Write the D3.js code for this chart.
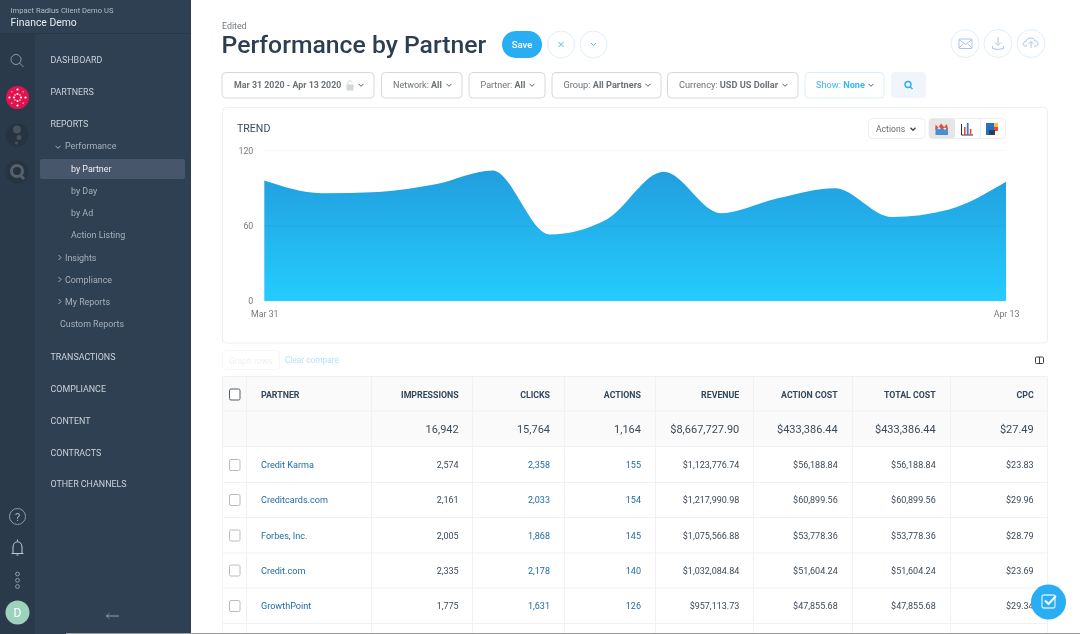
<!DOCTYPE html>
<html>
<head>
<meta charset="utf-8">
<script src="https://cdn.jsdelivr.net/npm/d3@7"></script>
<style>
  html, body { margin: 0; padding: 0; background: #fff; overflow: hidden; }
  svg { display: block; font-family: Roboto, sans-serif; filter: blur(0.3px); }
</style>
</head>
<body>
<svg id="page" width="1080" height="634"></svg>
<script>
// trend data, actions per day
const trendDays = ['2020-03-31','2020-04-01','2020-04-02','2020-04-03','2020-04-04','2020-04-05','2020-04-06',
  '2020-04-07','2020-04-08','2020-04-09','2020-04-10','2020-04-11','2020-04-12','2020-04-13'];
const trendActions = [96, 86, 87, 93, 104, 53, 65, 103, 70, 82, 90, 67, 73, 95];
const yTicks = [0, 60, 120];
const xTickLabels = ['Mar 31', 'Apr 13'];

// table data
const tableHeaders = ['IMPRESSIONS', 'CLICKS', 'ACTIONS', 'REVENUE', 'ACTION COST', 'TOTAL COST', 'CPC'];
const totals = ['16,942', '15,764', '1,164', '$8,667,727.90', '$433,386.44', '$433,386.44', '$27.49'];
const partners = ['Credit Karma', 'Creditcards.com', 'Forbes, Inc.', 'Credit.com', 'GrowthPoint'];
const impressions = ['2,574', '2,161', '2,005', '2,335', '1,775'];
const clicks = ['2,358', '2,033', '1,868', '2,178', '1,631'];
const actions = ['155', '154', '145', '140', '126'];
const revenue = ['$1,123,776.74', '$1,217,990.98', '$1,075,566.88', '$1,032,084.84', '$957,113.73'];
const actionCost = ['$56,188.84', '$60,899.56', '$53,778.36', '$51,604.24', '$47,855.68'];
const totalCost = ['$56,188.84', '$60,899.56', '$53,778.36', '$51,604.24', '$47,855.68'];
const cpc = ['$23.83', '$29.96', '$28.79', '$23.69', '$29.34'];

// nav and filter labels
const navTop = ['DASHBOARD', 'PARTNERS', 'REPORTS'];
const navSub = [['Performance', 65, 146], ['by Partner', 71, 169], ['by Day', 71, 191], ['by Ad', 71, 213],
  ['Action Listing', 71, 235], ['Insights', 65, 257.5], ['Compliance', 65, 279.5], ['My Reports', 65, 301.5], ['Custom Reports', 60, 323.5]];
const navBottom = ['TRANSACTIONS', 'COMPLIANCE', 'CONTENT', 'CONTRACTS', 'OTHER CHANNELS'];
const filters = [
  { x0: 222, x1: 374, a: '', b: 'Mar 31 2020 - Apr 13 2020', size: 8.85 },
  { x0: 381.5, x1: 462, a: 'Network: ', b: 'All', size: 9 },
  { x0: 469, x1: 545, a: 'Partner: ', b: 'All', size: 9 },
  { x0: 552, x1: 661, a: 'Group: ', b: 'All Partners', size: 9.2 },
  { x0: 667.5, x1: 798, a: 'Currency: ', b: 'USD US Dollar', size: 9.2 }
];

const svg = d3.select('#page');

function label(g, x, y, str, size, fill, weight, anchor) {
  return g.append('text').attr('x', x).attr('y', y).attr('dy', '0.35em')
    .attr('font-size', size).attr('fill', fill)
    .attr('font-weight', weight || 400).attr('text-anchor', anchor || 'start').text(str);
}
function chevron(g, x, y, color, w) {
  g.append('path').attr('d', `M${x - 2.5},${y - 1.2}L${x},${y + 1.3}L${x + 2.5},${y - 1.2}`)
    .attr('fill', 'none').attr('stroke', color).attr('stroke-width', w || 1);
}

// ---- sidebar ----
const side = svg.append('g');
side.append('rect').attr('width', 191).attr('height', 634).attr('fill', '#2f4052');
side.append('rect').attr('y', 34).attr('width', 35).attr('height', 600).attr('fill', '#2b3a4a');
side.append('line').attr('x1', 0).attr('x2', 191).attr('y1', 33.5).attr('y2', 33.5).attr('stroke', '#283746');
label(side, 10.5, 10, 'Impact Radius Client Demo US', 7.6, '#b4bcc5');
label(side, 10.5, 22, 'Finance Demo', 10.4, '#e6e9ec');

navTop.forEach((d, i) => label(side, 50.5, [60, 92, 123.5][i], d, 8.9, '#cdd2d8'));
side.append('rect').attr('x', 40).attr('y', 159).attr('width', 145).attr('height', 20).attr('rx', 2).attr('fill', '#47566a');
navSub.forEach((d, i) => label(side, d[1], d[2], d[0], 8.9, i === 1 ? '#eef0f2' : '#a7b0ba'));
chevron(side, 58, 147, '#a7b0ba');
[257.5, 279.5, 301.5].forEach(y => side.append('path').attr('d', `M58.5,${y - 2.5}L61,${y}L58.5,${y + 2.5}`)
  .attr('fill', 'none').attr('stroke', '#a7b0ba'));
navBottom.forEach((d, i) => label(side, 50.5, 356.7 + i * 31.9, d, 8.9, '#cdd2d8'));

// rail icons
const ic = '#8f9aa6';
side.append('circle').attr('cx', 16).attr('cy', 59.5).attr('r', 5).attr('fill', 'none').attr('stroke', ic);
side.append('line').attr('x1', 19.5).attr('y1', 63).attr('x2', 23.5).attr('y2', 67).attr('stroke', ic);
side.append('circle').attr('cx', 17.5).attr('cy', 97.5).attr('r', 11.5).attr('fill', '#e0134f');
d3.range(8).forEach(i => {
  const t = i * Math.PI / 4;
  [3.5, 8].forEach(r => side.append('circle').attr('cx', 17.5 + r * Math.cos(t)).attr('cy', 97.5 + r * Math.sin(t))
    .attr('r', i % 2 ? 0.7 : 1.1).attr('fill', '#fff'));
});
side.append('circle').attr('cx', 17).attr('cy', 135).attr('r', 11.5).attr('fill', '#27343f');
side.append('circle').attr('cx', 17).attr('cy', 129.5).attr('r', 4).attr('fill', '#46535f');
side.append('circle').attr('cx', 19).attr('cy', 137.5).attr('r', 2.5).attr('fill', '#46535f');
side.append('circle').attr('cx', 16.5).attr('cy', 143).attr('r', 1.5).attr('fill', '#46535f');
side.append('circle').attr('cx', 17).attr('cy', 172).attr('r', 11.5).attr('fill', '#27343f');
side.append('circle').attr('cx', 17).attr('cy', 171).attr('r', 5.5).attr('fill', 'none').attr('stroke', '#55626d').attr('stroke-width', 3);
side.append('line').attr('x1', 20).attr('y1', 175).attr('x2', 24).attr('y2', 179).attr('stroke', '#55626d').attr('stroke-width', 3);
side.append('circle').attr('cx', 17.5).attr('cy', 516.5).attr('r', 8).attr('fill', 'none').attr('stroke', ic);
label(side, 17.5, 517, '?', 11, '#aab3bc', 400, 'middle');
side.append('path').attr('d', 'M13,553V547C13,540 22,540 22,547V553M11.5,553.5H23.5M16.5,555H18.5M17.5,541V539.5')
  .attr('fill', 'none').attr('stroke', '#c3c9d0');
[574, 580.3, 586.5].forEach(y => side.append('circle').attr('cx', 17.5).attr('cy', y).attr('r', 1.9)
  .attr('fill', 'none').attr('stroke', ic));
side.append('circle').attr('cx', 17.5).attr('cy', 612.5).attr('r', 12).attr('fill', '#9dd3bd');
label(side, 17.5, 613, 'D', 12, '#fff', 400, 'middle');
side.append('path').attr('d', 'M119,616H106.5M109,613.5L106.5,616L109,618.5').attr('fill', 'none').attr('stroke', '#95a0ab');

// ---- page header ----
const head = svg.append('g');
label(head, 222, 25.5, 'Edited', 8.8, '#6f7880');
label(head, 221.5, 44.5, 'Performance by Partner', 24.75, '#2c3e50', 500);
head.append('rect').attr('x', 502).attr('y', 31).attr('width', 40).attr('height', 27).attr('rx', 13.5).attr('fill', '#2aaef3');
label(head, 522, 44.5, 'Save', 9.6, '#fff', 500, 'middle');

function circleBtn(cx, cy, r) {
  head.append('circle').attr('cx', cx).attr('cy', cy).attr('r', r).attr('fill', '#fff').attr('stroke', '#deeefb');
}
circleBtn(561, 44.5, 13.5);
circleBtn(593.5, 44.5, 13.5);
head.append('path').attr('d', 'M558.5,42L563.5,47M563.5,42L558.5,47').attr('stroke', '#4db5f0').attr('fill', 'none');
chevron(head, 593.5, 44.2, '#4db5f0');
[965, 998, 1031].forEach(x => circleBtn(x, 43.5, 14));
const blueIc = '#a9c6ea';
head.append('rect').attr('x', 959).attr('y', 39).attr('width', 13).attr('height', 9.5).attr('rx', 1).attr('fill', 'none').attr('stroke', blueIc);
head.append('path').attr('d', 'M959,39.5L965.5,44.5L972,39.5M959,48L963.5,43.5M972,48L967.5,43.5').attr('fill', 'none').attr('stroke', blueIc);
head.append('path').attr('d', 'M998,37V45M995,42.5L998,45.5L1001,42.5M992.5,46V48.5Q998,50.5 1003.5,48.5V46').attr('fill', 'none').attr('stroke', blueIc);
head.append('path').attr('d', 'M1027,46H1025C1022,46 1023,41 1026,41.5C1027,37 1034,37 1035,41C1039,41 1039,46 1036,46H1034M1031,48V42M1028.5,44L1031,41.5L1033.5,44')
  .attr('fill', 'none').attr('stroke', blueIc);

// ---- filter row ----
const bar = svg.append('g');
filters.forEach((f, i) => {
  bar.append('rect').attr('x', f.x0).attr('y', 72.5).attr('width', f.x1 - f.x0).attr('height', 25.5).attr('rx', 4)
    .attr('fill', '#fff').attr('stroke', '#d5d8db');
  const t = bar.append('text').attr('x', i === 0 ? f.x0 + 12 : f.x0 + 11.5).attr('y', 85).attr('dy', '0.35em')
    .attr('font-size', f.size).attr('fill', '#6c7278');
  t.append('tspan').text(f.a);
  t.append('tspan').attr('font-weight', 700).text(f.b);
  chevron(bar, f.x1 - 13, 85, '#555d64');
});
bar.append('rect').attr('x', 346.5).attr('y', 84.5).attr('width', 7).attr('height', 6).attr('fill', '#d3d6d9');
bar.append('path').attr('d', 'M348,84.5V82.5C348,80 352,80 352,82.5').attr('fill', 'none').attr('stroke', '#d3d6d9');

bar.append('rect').attr('x', 805).attr('y', 72.5).attr('width', 79).attr('height', 25.5).attr('rx', 4)
  .attr('fill', '#fff').attr('stroke', '#dcecfb');
const showT = bar.append('text').attr('x', 816).attr('y', 85).attr('dy', '0.35em').attr('font-size', 9.2).attr('fill', '#3cb4f5');
showT.append('tspan').text('Show: ');
showT.append('tspan').attr('font-weight', 700).text('None');
chevron(bar, 871, 85, '#555d64');
bar.append('rect').attr('x', 891).attr('y', 72).attr('width', 35).attr('height', 26).attr('rx', 4).attr('fill', '#eff5fa');
bar.append('circle').attr('cx', 908).attr('cy', 84.5).attr('r', 3).attr('fill', 'none').attr('stroke', '#2aaef3').attr('stroke-width', 1.4);
bar.append('line').attr('x1', 910).attr('y1', 86.7).attr('x2', 912.5).attr('y2', 89).attr('stroke', '#2aaef3').attr('stroke-width', 1.4);

// ---- trend card ----
const card = svg.append('g');
card.append('rect').attr('x', 222.5).attr('y', 107.5).attr('width', 825).attr('height', 235.5).attr('rx', 4)
  .attr('fill', '#fff').attr('stroke', '#eceef0');
label(card, 237, 128.5, 'TREND', 10.6, '#3a4a5a', 400);

card.append('rect').attr('x', 868.5).attr('y', 118.5).attr('width', 56.5).attr('height', 20).attr('rx', 4).attr('fill', '#fff').attr('stroke', '#eceef0');
label(card, 876, 128.8, 'Actions', 8.6, '#666c72');
chevron(card, 913, 129, '#444', 1.4);
card.append('rect').attr('x', 929).attr('y', 118.5).attr('width', 76.5).attr('height', 20).attr('rx', 4).attr('fill', '#fff').attr('stroke', '#eceef0');
card.append('rect').attr('x', 929).attr('y', 118.5).attr('width', 26).attr('height', 20).attr('rx', 3).attr('fill', '#e6e6e6');
card.append('line').attr('x1', 980.5).attr('x2', 980.5).attr('y1', 118.5).attr('y2', 138.5).attr('stroke', '#eceef0');
// toggle icons
card.append('path').attr('d', 'M935.5,135V127L939,129.5L942,127.5L945,130L948,127.5V135Z').attr('fill', '#4a8fd0');
card.append('path').attr('d', 'M935.5,130V124.5L938.5,127.5L941,123.5L944,127L947,124L948,130L945,127.5L942,129L939,127Z').attr('fill', '#e8493f');
card.append('path').attr('d', 'M961.5,124V135H973').attr('fill', 'none').attr('stroke', '#333');
card.append('rect').attr('x', 964).attr('y', 127).attr('width', 1.6).attr('height', 8).attr('fill', '#e8493f');
card.append('rect').attr('x', 966.8).attr('y', 123).attr('width', 1.8).attr('height', 12).attr('fill', '#3d80c9');
card.append('rect').attr('x', 969.8).attr('y', 129).attr('width', 1.6).attr('height', 6).attr('fill', '#e8493f');
card.append('rect').attr('x', 986).attr('y', 123).attr('width', 8).attr('height', 12).attr('fill', '#2b6fc4');
card.append('rect').attr('x', 994).attr('y', 123).attr('width', 4).attr('height', 4).attr('fill', '#f6c23c');
card.append('rect').attr('x', 994).attr('y', 127).attr('width', 4).attr('height', 4).attr('fill', '#e8493f');
card.append('rect').attr('x', 989).attr('y', 130).attr('width', 6).attr('height', 5).attr('fill', '#333f4a');

// chart, the only real data marks on the page
const parseDay = d3.timeParse('%Y-%m-%d');
const days = trendDays.map(parseDay);
const x = d3.scaleTime().domain(d3.extent(days)).range([264.3, 1006]);
const y = d3.scaleLinear().domain([0, 120]).range([301, 150.5]);

const defs = svg.append('defs');
const grad = defs.append('linearGradient').attr('id', 'areaFill').attr('x1', 0).attr('x2', 0).attr('y1', 0).attr('y2', 1);
grad.append('stop').attr('offset', '0%').attr('stop-color', '#229edd');
grad.append('stop').attr('offset', '100%').attr('stop-color', '#24ccff');

const area = d3.area()
  .x((d, i) => x(days[i]))
  .y0(y(0))
  .y1(d => y(d))
  .curve(d3.curveMonotoneX);

defs.append('clipPath').attr('id', 'areaClip').append('path').attr('d', area(trendActions));

const yAxis = d3.axisLeft(y).tickValues(yTicks).tickSize(0).tickPadding(11);
const yG = svg.append('g').attr('transform', 'translate(264.3,0)').call(yAxis);
yG.select('.domain').remove();
yG.selectAll('text').attr('font-size', 8.8).attr('font-family', 'Roboto').attr('fill', '#75797d');

svg.append('g').selectAll('line').data(yTicks.filter(d => d > 0)).join('line')
  .attr('x1', x.range()[0]).attr('x2', x.range()[1])
  .attr('y1', d => y(d)).attr('y2', d => y(d))
  .attr('stroke', '#f7f8f9');

svg.append('path').datum(trendActions).attr('d', area).attr('fill', 'url(#areaFill)');

// the 60 gridline shows faintly through the area
svg.append('line').attr('x1', x.range()[0]).attr('x2', x.range()[1]).attr('y1', y(60)).attr('y2', y(60))
  .attr('clip-path', 'url(#areaClip)').attr('stroke', '#1b8fc8').attr('stroke-opacity', 0.18);

const xAxis = d3.axisBottom(x).tickValues([days[0], days[days.length - 1]])
  .tickFormat((d, i) => xTickLabels[i]).tickSize(0).tickPadding(10);
const xG = svg.append('g').attr('transform', `translate(0,${y(0)})`).call(xAxis);
xG.select('.domain').remove();
xG.selectAll('text').attr('font-size', 8.8).attr('font-family', 'Roboto').attr('fill', '#75797d');

// ---- table ----
const table = svg.append('g');
table.append('rect').attr('x', 222.5).attr('y', 350.5).attr('width', 57).attr('height', 19).attr('rx', 4)
  .attr('fill', '#fff').attr('stroke', '#f4f5f6');
label(table, 229, 360.5, 'Graph rows', 8.6, '#eef0f1');
label(table, 285, 360.5, 'Clear compare', 8.3, '#b4e2fc');
table.append('rect').attr('x', 1035.5).attr('y', 357).attr('width', 8).attr('height', 6.5).attr('rx', 1).attr('fill', 'none').attr('stroke', '#39424b');
table.append('line').attr('x1', 1039.5).attr('x2', 1039.5).attr('y1', 357).attr('y2', 363.5).attr('stroke', '#39424b');

const colLines = [222.5, 246.5, 371.5, 472.5, 564.5, 655.5, 753.5, 852.5, 950.5, 1047.5];
const colEnds = [458.7, 550, 641, 739.3, 837.7, 935.7, 1033.7];
const rowY = [465, 500, 535.5, 570.5, 606];
const rowLines = [482.5, 517.5, 553, 588, 623.5];

table.append('path').attr('d', 'M222.5,446.5V381Q222.5,377 226.5,377H1043.5Q1047.5,377 1047.5,381V446.5Z')
  .attr('fill', '#fafafa');

table.selectAll('.col').data(colLines).join('line').attr('class', 'col')
  .attr('x1', d => d).attr('x2', d => d).attr('y1', 377).attr('y2', 634).attr('stroke', '#f0f1f2');
table.selectAll('.row').data([376.5, 411, 446.5].concat(rowLines)).join('line').attr('class', 'row')
  .attr('x1', 222.5).attr('x2', 1047.5).attr('y1', d => d).attr('y2', d => d).attr('stroke', '#f0f1f2');

label(table, 261, 394.5, 'PARTNER', 8.8, '#33475a', 700);
tableHeaders.forEach((d, i) => label(table, colEnds[i], 394.5, d, 8.8, '#33475a', 700, 'end'));
totals.forEach((d, i) => label(table, colEnds[i], 429.5, d, 11, '#3c4a58', 400, 'end'));

function checkbox(cy, stroke) {
  table.append('rect').attr('x', 229.5).attr('y', cy - 5.5).attr('width', 10.5).attr('height', 11).attr('rx', 1.5)
    .attr('fill', '#fff').attr('stroke', stroke);
}
checkbox(394.5, '#555d64');
rowY.forEach(cy => checkbox(cy, '#b8bcc0'));

const linkBlue = '#1f6aa8';
const cellColumns = [impressions, clicks, actions, revenue, actionCost, totalCost, cpc];
partners.forEach((d, i) => {
  label(table, 261, rowY[i], d, 9.1, linkBlue);
  cellColumns.forEach((col, c) => {
    label(table, colEnds[c], rowY[i], col[i], 9, (c === 1 || c === 2) ? linkBlue : '#3c4a58', 400, 'end');
  });
});

// floating button
svg.append('circle').attr('cx', 1048.5).attr('cy', 602).attr('r', 17.5).attr('fill', '#2aaef3');
svg.append('rect').attr('x', 1042).attr('y', 595).attr('width', 13).attr('height', 13).attr('rx', 2).attr('fill', 'none').attr('stroke', '#cfeafc').attr('stroke-width', 1.3);
svg.append('path').attr('d', 'M1045,600.5L1048.5,604L1056,596').attr('fill', 'none').attr('stroke', '#fff').attr('stroke-width', 2);

// bottom edge of the screenshot
svg.append('rect').attr('y', 633).attr('x', 66).attr('width', 1014).attr('height', 1).attr('fill', '#9a9a9a');
</script>
</body>
</html>
